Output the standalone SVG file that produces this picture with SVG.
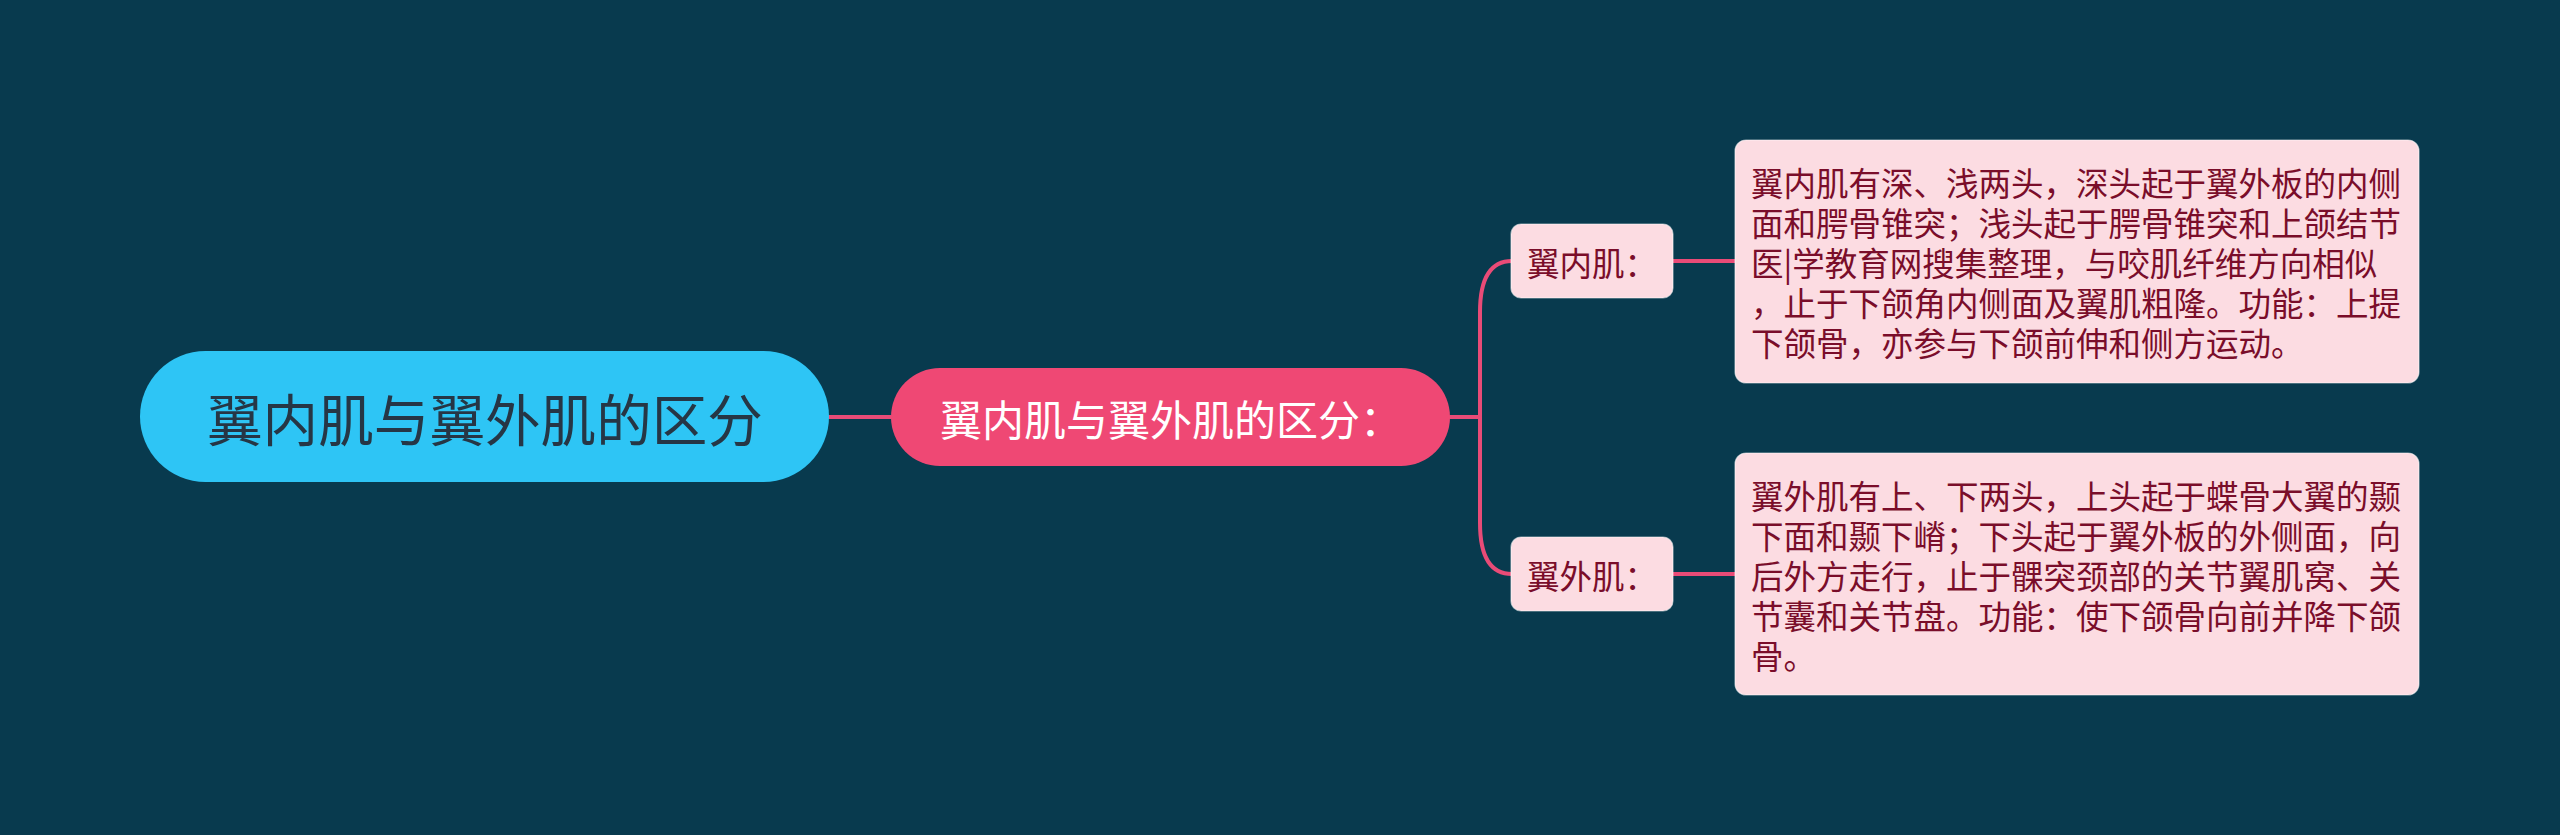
<svg xmlns="http://www.w3.org/2000/svg" width="2560" height="835" viewBox="0 0 2560 835">
<style>
.t{font-family:"Noto Sans CJK SC","Noto Sans",sans-serif;dominant-baseline:central}
.leaf{fill:#fcdce2;stroke:#ffffff;stroke-opacity:0.55;stroke-width:1.2}
.lt{font-size:32.5px;fill:#7a0d2a}
.con{fill:none;stroke:#e94b77;stroke-width:4;stroke-linecap:round}
</style>
<rect x="0" y="0" width="2560" height="835" fill="#083a4e"/>
<g id="connectors">
<path class="con" d="M829,417 H891"/>
<path class="con" d="M1450,417 H1480"/>
<path class="con" d="M1480,417 V312 Q1480,261 1512,261"/>
<path class="con" d="M1480,417 V523 Q1480,574 1512,574"/>
<path class="con" d="M1673,261 H1735"/>
<path class="con" d="M1673,574 H1735"/>
</g>
<g id="root">
<rect x="140" y="351" width="689" height="131" rx="65.5" fill="#2ec5f5"/>
<text class="t" x="485" y="417" text-anchor="middle" font-size="55.6" fill="#263645">翼内肌与翼外肌的区分</text>
</g>
<g id="center">
<rect x="891" y="368" width="559" height="98" rx="49" fill="#ef4874"/>
<text class="t" x="1171" y="417" text-anchor="middle" font-size="42" fill="#ffffff">翼内肌与翼外肌的区分：</text>
</g>
<g id="n-inner">
<rect class="leaf" x="1511" y="224" width="162" height="74" rx="10"/>
<text class="t lt" x="1592" y="261" text-anchor="middle">翼内肌：</text>
</g>
<g id="n-outer">
<rect class="leaf" x="1511" y="537" width="162" height="74" rx="10"/>
<text class="t lt" x="1592" y="574" text-anchor="middle">翼外肌：</text>
</g>
<g id="d-inner">
<rect class="leaf" x="1735" y="140" width="684" height="243" rx="11"/>
<text class="t lt" x="1751" y="181">翼内肌有深、浅两头，深头起于翼外板的内侧</text>
<text class="t lt" x="1751" y="221">面和腭骨锥突；浅头起于腭骨锥突和上颌结节</text>
<text class="t lt" x="1751" y="261">医|学教育网搜集整理，与咬肌纤维方向相似</text>
<text class="t lt" x="1751" y="301">，止于下颌角内侧面及翼肌粗隆。功能：上提</text>
<text class="t lt" x="1751" y="341">下颌骨，亦参与下颌前伸和侧方运动。</text>
</g>
<g id="d-outer">
<rect class="leaf" x="1735" y="453" width="684" height="242" rx="11"/>
<text class="t lt" x="1751" y="494">翼外肌有上、下两头，上头起于蝶骨大翼的颞</text>
<text class="t lt" x="1751" y="534">下面和颞下嵴；下头起于翼外板的外侧面，向</text>
<text class="t lt" x="1751" y="574">后外方走行，止于髁突颈部的关节翼肌窝、关</text>
<text class="t lt" x="1751" y="614">节囊和关节盘。功能：使下颌骨向前并降下颌</text>
<text class="t lt" x="1751" y="654">骨。</text>
</g>
</svg>
